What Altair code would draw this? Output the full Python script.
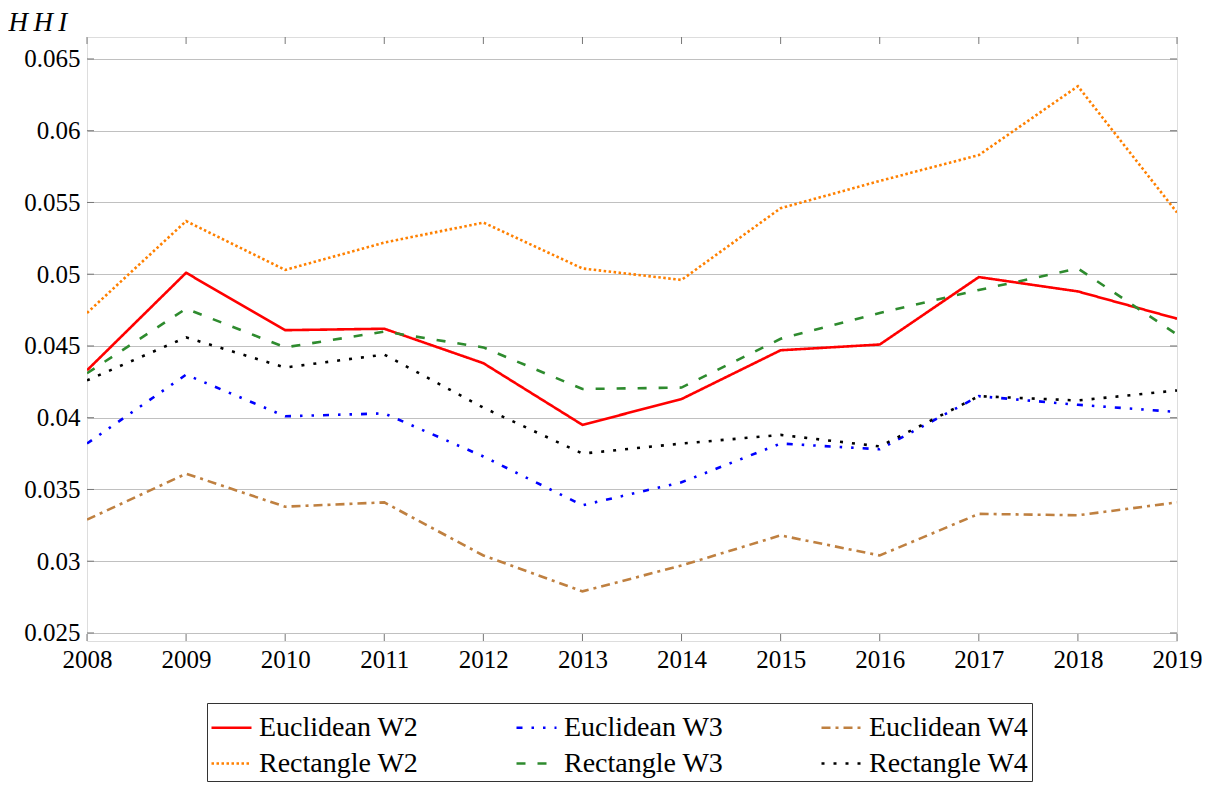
import altair as alt
import pandas as pd

years = list(range(2008, 2020))
euc_w2 = [0.0433, 0.0501, 0.0461, 0.0462, 0.0438, 0.0395, 0.0413, 0.0447, 0.0451, 0.0498, 0.0488, 0.0469]
rect_w2 = [0.0473, 0.0537, 0.0503, 0.0522, 0.0536, 0.0504, 0.0496, 0.0546, 0.0565, 0.0583, 0.0631, 0.0543]
euc_w3 = [0.0382, 0.0430, 0.0401, 0.0403, 0.0373, 0.0339, 0.0355, 0.0382, 0.0378, 0.0415, 0.0409, 0.0404]
rect_w3 = [0.0431, 0.0476, 0.0449, 0.0460, 0.0449, 0.0420, 0.0421, 0.0455, 0.0473, 0.0489, 0.0504, 0.0458]
euc_w4 = [0.0329, 0.0361, 0.0338, 0.0341, 0.0304, 0.0279, 0.0297, 0.0318, 0.0304, 0.0333, 0.0332, 0.0341]
rect_w4 = [0.0426, 0.0456, 0.0435, 0.0444, 0.0407, 0.0375, 0.0382, 0.0388, 0.0380, 0.0415, 0.0412, 0.0419]

series_names = ["Euclidean W2", "Euclidean W3", "Euclidean W4",
                "Rectangle W2", "Rectangle W3", "Rectangle W4"]
series_values = [euc_w2, euc_w3, euc_w4, rect_w2, rect_w3, rect_w4]
colors = ["#ff0000", "#0000ff", "#bf8040", "#ff8000", "#2e8b2e", "#000000"]
dashes = [[1, 0], [6, 9, 2.5, 9, 2.5, 9], [9, 5, 3, 5], [2.5, 2.5], [9, 12], [3, 9]]
y_ticks = [0.025, 0.03, 0.035, 0.04, 0.045, 0.05, 0.055, 0.06, 0.065]

rows = []
for name, vals in zip(series_names, series_values):
    for yr, v in zip(years, vals):
        rows.append({"year": yr, "value": v, "series": name})
df = pd.DataFrame(rows)

W, H = 1090, 604
FONT = "Liberation Serif"

xscale = alt.Scale(domain=[2008, 2019], nice=False, zero=False)
yscale = alt.Scale(domain=[0.02444, 0.06653], nice=False, zero=False)

def make_legend():
    return alt.Legend(title=None, orient="none", legendX=120, legendY=666,
                      columns=3, direction="horizontal",
                      symbolType="stroke", symbolSize=1600,
                      symbolStrokeWidth=2.6, labelFont=FONT,
                      labelFontSize=28, labelColor="#000",
                      columnPadding=92, rowPadding=0,
                      strokeColor="#333", fillColor="white",
                      padding=3, labelOffset=6, labelLimit=400)

lines = alt.Chart(df).mark_line(strokeWidth=2.6, clip=True).encode(
    x=alt.X("year:Q", scale=xscale,
            axis=alt.Axis(values=years, format="d", title=None, ticks=False,
                          grid=False, domain=False, labelPadding=6, labelFlush=False,
                          labelFontSize=25, labelFont=FONT, labelColor="#000")),
    y=alt.Y("value:Q", scale=yscale,
            axis=alt.Axis(values=y_ticks, format=".3~f", title="H\u2009H\u2009I",
                          titleAngle=0, titleX=-79, titleY=-7, titleAlign="left",
                          titleBaseline="alphabetic",
                          titleFont=FONT, titleFontSize=27, titleFontStyle="italic",
                          titleFontWeight="normal", titleColor="#000",
                          ticks=False, domain=False, labelPadding=7, labelFlush=False,
                          labelFontSize=25, labelFont=FONT, labelColor="#000",
                          grid=True, gridColor="#c0c0c0", gridWidth=1)),
    color=alt.Color("series:N", scale=alt.Scale(domain=series_names, range=colors),
                    legend=make_legend()),
    strokeDash=alt.StrokeDash("series:N",
                              scale=alt.Scale(domain=series_names, range=dashes),
                              legend=make_legend()),
)

xt = pd.DataFrame({"year": years})
yt = pd.DataFrame({"value": y_ticks})
tick_col = "#777"
xt_top = alt.Chart(xt).mark_rule(color=tick_col, strokeWidth=1).encode(
    x=alt.X("year:Q", scale=xscale), y=alt.value(0), y2=alt.value(7))
xt_bot = alt.Chart(xt).mark_rule(color=tick_col, strokeWidth=1).encode(
    x=alt.X("year:Q", scale=xscale), y=alt.value(H), y2=alt.value(H - 7))
yt_left = alt.Chart(yt).mark_rule(color=tick_col, strokeWidth=1).encode(
    y=alt.Y("value:Q", scale=yscale), x=alt.value(0), x2=alt.value(7))
yt_right = alt.Chart(yt).mark_rule(color=tick_col, strokeWidth=1).encode(
    y=alt.Y("value:Q", scale=yscale), x=alt.value(W), x2=alt.value(W - 7))

chart = alt.layer(xt_top, xt_bot, yt_left, yt_right, lines).properties(
    width=W, height=H, padding={"left": 0, "top": 0, "right": 0, "bottom": 0}
).configure_view(stroke="#000", strokeWidth=1.3).configure(background="white")

chart.save("out.html", embed_options={"renderer": "svg", "actions": False})
